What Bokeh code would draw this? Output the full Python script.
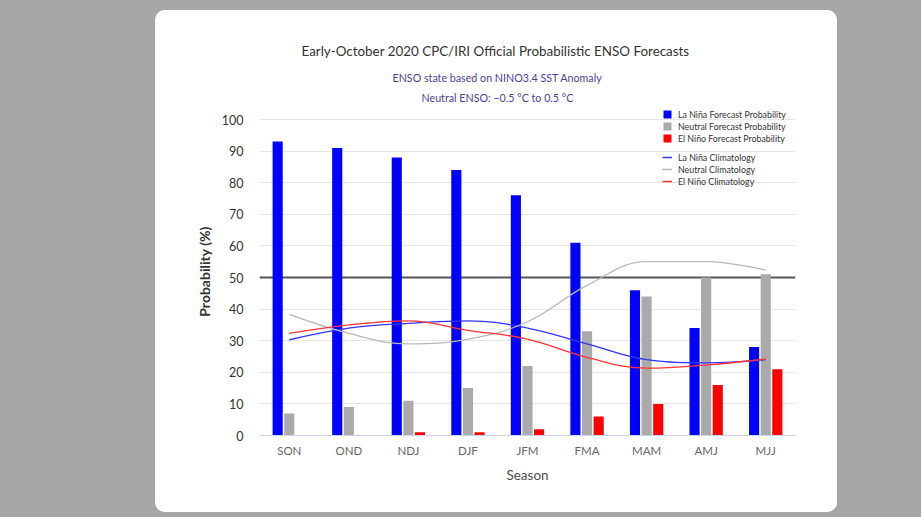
from bokeh.plotting import figure
from bokeh.layouts import column
from bokeh.models import (Range1d, FixedTicker, Span, Title, Legend,
                          LegendItem, ColumnDataSource)
from bokeh.transform import dodge
from bokeh.embed import file_html
from bokeh.resources import INLINE

# ---------------- data ----------------
seasons = ["SON", "OND", "NDJ", "DJF", "JFM", "FMA", "MAM", "AMJ", "MJJ"]
la_nina_prob = [93, 91, 88, 84, 76, 61, 46, 34, 28]
neutral_prob = [7, 9, 11, 15, 22, 33, 44, 50, 51]
el_nino_prob = [0, 0, 1, 1, 2, 6, 10, 16, 21]
la_nina_clim = [30.3, 34.0, 35.5, 36.3, 34.0, 29.0, 24.0, 23.0, 24.0]
neutral_clim = [38.3, 32.3, 29.0, 30.5, 36.0, 47.5, 55.0, 55.0, 52.3]
el_nino_clim = [32.3, 35.0, 36.3, 33.3, 30.5, 24.7, 21.3, 22.3, 24.2]
y_ticks = [0, 10, 20, 30, 40, 50, 60, 70, 80, 90, 100]

title_text = "Early-October 2020 CPC/IRI Official Probabilistic ENSO Forecasts"
subtitle_1 = "ENSO state based on NINO3.4 SST Anomaly"
subtitle_2 = "Neutral ENSO: \u22120.5 \u00b0C to 0.5 \u00b0C"

FONT = "Lato"
# card (figure) placement in the window
CX, CY, CW, CH = 155, 10, 682, 502
PAGE_W, PAGE_H = 921, 517
# frame geometry inside the figure (px)
FL, FT, FW, FB = 104, 97, 536, 425
PX_PER_UNIT = 3.16
Y_END = (FB - FT) / PX_PER_UNIT

xc = [i + 0.5 for i in range(len(seasons))]


def spline(xs, ys, smoothing=1.5):
    n = len(xs)
    d = smoothing + 1
    lc = [(xs[i], ys[i]) for i in range(n)]
    rc = [(xs[i], ys[i]) for i in range(n)]
    for i in range(1, n - 1):
        x, y = xs[i], ys[i]
        lx = (smoothing * x + xs[i - 1]) / d
        ly = (smoothing * y + ys[i - 1]) / d
        nx = (smoothing * x + xs[i + 1]) / d
        ny = (smoothing * y + ys[i + 1]) / d
        corr = ((ny - ly) * (nx - x)) / (nx - lx) + y - ny
        ly += corr
        ny += corr
        if ly > max(ys[i - 1], y):
            ly = max(ys[i - 1], y); ny = 2 * y - ly
        elif ly < min(ys[i - 1], y):
            ly = min(ys[i - 1], y); ny = 2 * y - ly
        if ny > max(ys[i + 1], y):
            ny = max(ys[i + 1], y); ly = 2 * y - ny
        elif ny < min(ys[i + 1], y):
            ny = min(ys[i + 1], y); ly = 2 * y - ny
        lc[i] = (lx, ly)
        rc[i] = (nx, ny)
    return dict(x0=xs[:-1], y0=ys[:-1], x1=xs[1:], y1=ys[1:],
                cx0=[rc[i][0] for i in range(n - 1)], cy0=[rc[i][1] for i in range(n - 1)],
                cx1=[lc[i + 1][0] for i in range(n - 1)], cy1=[lc[i + 1][1] for i in range(n - 1)])


p = figure(width=CW, height=CH, output_backend="svg", toolbar_location=None,
           x_range=Range1d(0, len(seasons)), y_range=Range1d(0, Y_END),
           min_border_left=FL, min_border_top=FT,
           min_border_right=CW - FL - FW, min_border_bottom=CH - FB)
p.border_fill_color = "white"
p.background_fill_color = None
p.outline_line_color = None
p.margin = (CY, PAGE_W - CX - CW, PAGE_H - CY - CH, CX)
p.styles = {"border-radius": "10px", "overflow": "hidden", "background-color": "white"}

src = ColumnDataSource(dict(x=xc, la=la_nina_prob, ne=neutral_prob, el=el_nino_prob))

p.add_layout(Span(location=50, dimension="width", line_color="#555555",
                  line_width=2, level="underlay"))

bw = 0.17
off = 0.195
r_la = p.vbar(x=dodge("x", -off), top="la", width=bw, source=src,
              fill_color="#0000ff", line_color=None)
r_ne = p.vbar(x=dodge("x", 0.0), top="ne", width=bw, source=src,
              fill_color="#aaaaaa", line_color=None)
r_el = p.vbar(x=dodge("x", off), top="el", width=bw, source=src,
              fill_color="#ff0000", line_color=None)

c_la = p.bezier(source=ColumnDataSource(spline(xc, la_nina_clim)), x0="x0", y0="y0",
                x1="x1", y1="y1", cx0="cx0", cy0="cy0", cx1="cx1", cy1="cy1",
                line_color="#3333ff", line_width=1.3)
c_ne = p.bezier(source=ColumnDataSource(spline(xc, neutral_clim)), x0="x0", y0="y0",
                x1="x1", y1="y1", cx0="cx0", cy0="cy0", cx1="cx1", cy1="cy1",
                line_color="#b8b8b8", line_width=1.3)
c_el = p.bezier(source=ColumnDataSource(spline(xc, el_nino_clim)), x0="x0", y0="y0",
                x1="x1", y1="y1", cx0="cx0", cy0="cy0", cx1="cx1", cy1="cy1",
                line_color="#ff3333", line_width=1.3)

# axes
p.xgrid.grid_line_color = None
p.ygrid.ticker = FixedTicker(ticks=y_ticks)
p.ygrid.grid_line_color = "#e6e6e6"

p.yaxis.ticker = FixedTicker(ticks=y_ticks)
p.yaxis.axis_line_color = None
p.yaxis.major_tick_line_color = None
p.yaxis.minor_tick_line_color = None
p.yaxis.major_tick_out = 0
p.yaxis.minor_tick_out = 0
p.yaxis.major_label_standoff = 16
p.yaxis.major_label_text_font = FONT
p.yaxis.major_label_text_font_size = "12.5px"
p.yaxis.major_label_text_color = "#333333"
p.yaxis.axis_label = "Probability (%)"
p.yaxis.axis_label_text_font = FONT
p.yaxis.axis_label_text_font_size = "14px"
p.yaxis.axis_label_text_font_style = "bold"
p.yaxis.axis_label_text_color = "#333333"
p.yaxis.axis_label_standoff = 6

p.xaxis.ticker = FixedTicker(ticks=xc)
p.xaxis.major_label_overrides = {x: s for x, s in zip(xc, seasons)}
p.xaxis.axis_line_color = "#ccd6eb"
p.xaxis.major_tick_line_color = None
p.xaxis.minor_tick_line_color = None
p.xaxis.major_tick_out = 0
p.xaxis.minor_tick_out = 0
p.xaxis.major_label_standoff = 8
p.xaxis.major_label_text_font = FONT
p.xaxis.major_label_text_font_size = "11.5px"
p.xaxis.major_label_text_color = "#666666"
p.xaxis.axis_label = "Season"
p.xaxis.axis_label_text_font = FONT
p.xaxis.axis_label_text_font_size = "13.5px"
p.xaxis.axis_label_text_font_style = "normal"
p.xaxis.axis_label_text_color = "#4d4d4d"
p.xaxis.axis_label_standoff = 7

# titles (first added sits nearest the frame)
p.add_layout(Title(text=subtitle_2, align="left", offset=162, standoff=7,
                   text_font=FONT, text_font_size="10.7px", text_font_style="normal",
                   text_color="#4b3f9e"), "above")
p.add_layout(Title(text=subtitle_1, align="left", offset=133, standoff=3,
                   text_font=FONT, text_font_size="10.7px", text_font_style="normal",
                   text_color="#4b3f9e"), "above")
p.add_layout(Title(text=title_text, align="left", offset=42, standoff=18,
                   text_font=FONT, text_font_size="13.4px", text_font_style="normal",
                   text_color="#333333"), "above")


def make_legend(items, vy):
    return Legend(items=items, location=(403, vy), orientation="vertical",
                  padding=0, margin=0, spacing=1, label_height=11,
                  glyph_height=10, glyph_width=10, label_standoff=6,
                  label_text_font=FONT, label_text_font_size="8.8px",
                  label_text_color="#333333", border_line_alpha=0,
                  background_fill_alpha=0)


leg1 = make_legend([LegendItem(label="La Niña Forecast Probability", renderers=[r_la]),
                    LegendItem(label="Neutral Forecast Probability", renderers=[r_ne]),
                    LegendItem(label="El Niño Forecast Probability", renderers=[r_el])], 291.5)
leg2 = make_legend([LegendItem(label="La Niña Climatology", renderers=[c_la]),
                    LegendItem(label="Neutral Climatology", renderers=[c_ne]),
                    LegendItem(label="El Niño Climatology", renderers=[c_el])], 248.5)
p.add_layout(leg1)
p.add_layout(leg2)

root = column(p, styles={"background-color": "#a6a6a6"})

open("out.html", "w").write(file_html(root, INLINE))
